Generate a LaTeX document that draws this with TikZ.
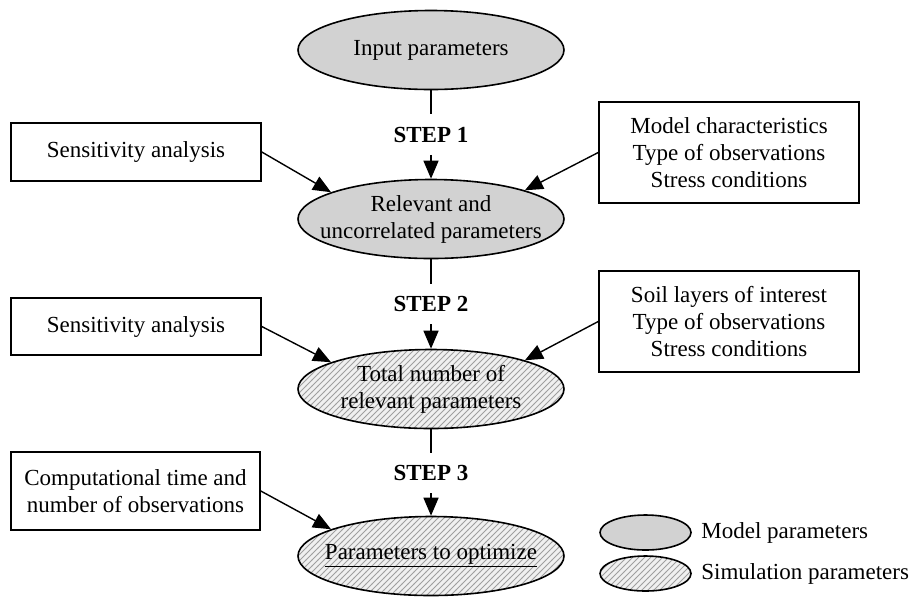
\documentclass[tikz,border=0pt]{standalone}
\usepackage{fontspec}
\setmainfont{Liberation Serif}
\usetikzlibrary{positioning, shapes.geometric, patterns, arrows.meta}

\begin{document}
\begin{tikzpicture}[x=0.5pt, y=-0.5pt,
    font=\fontsize{11.5}{13.5}\selectfont,
    modelpar/.style={ellipse, draw, line width=0.8pt, fill=gray!35,
      inner sep=0pt, minimum width=133pt, minimum height=39.5pt},
    simpar/.style={modelpar, preaction={fill=gray!12}, fill=none,
      pattern=north east lines, pattern color=gray!75},
    infobox/.style={draw, line width=0.8pt, align=center, inner sep=0pt},
    steplabel/.style={font=\fontsize{11.5}{13.5}\selectfont\bfseries,
      inner sep=0pt, minimum height=20pt},
    link/.style={line width=0.7pt},
    arrow/.style={link, -{Triangle[length=9pt, width=7.5pt]}}]
    \useasboundingbox (0,0) rectangle (909,596);

    % Parameter ellipses
    \node[modelpar, label={center:Input parameters}] (inp) at (431,50) {};
    \node[modelpar, label={[align=center]center:Relevant and\\uncorrelated parameters}] (rel) at (431,219) {};
    \node[simpar, label={[align=center]center:Total number of\\relevant parameters}] (tot) at (431,389) {};
    \node[simpar, label={center:\underline{Parameters to optimize}}] (opt) at (431,556) {};

    % Steps between the ellipses
    \foreach \n/\y in {1/134.5, 2/304, 3/473}
      \node[steplabel] (step\n) at (431,\y) {STEP \n};
    \foreach \a/\s/\b in {inp/step1/rel, rel/step2/tot, tot/step3/opt} {
      \draw[link] (\a.south) -- (\s.north);
      \draw[arrow] (\s.south) -- (\b.north);
    }

    % Boxes on the left
    \node[infobox, minimum width=125pt, minimum height=29pt] (sens1) at (136,152) {Sensitivity analysis};
    \node[infobox, minimum width=125pt, minimum height=28.5pt] (sens2) at (136,326.5) {Sensitivity analysis};
    \node[infobox, minimum width=124.5pt, minimum height=39pt] (comp) at (135.5,491) {Computational time and\\number of observations};

    % Boxes on the right
    \node[infobox, minimum width=130pt, minimum height=50.5pt] (model) at (729,152.5) {Model characteristics\\Type of observations\\Stress conditions};
    \node[infobox, minimum width=130pt, minimum height=50.5pt] (soil) at (729,321.5) {Soil layers of interest\\Type of observations\\Stress conditions};

    % Arrows into the ellipses
    \draw[arrow] (sens1.east) -- (rel.165);
    \draw[arrow] (model.west) -- (rel.17);
    \draw[arrow] (sens2.east) -- (tot.165);
    \draw[arrow] (soil.west) -- (tot.17);
    \draw[arrow] (comp.east) -- (opt.165);

    % Legend
    \node[modelpar, minimum width=45.5pt, minimum height=17.5pt] (legm) at (645.5,532.5) {};
    \node[simpar, minimum width=45.5pt, minimum height=17.5pt] (legs) at (645.5,573.5) {};
    \node[anchor=west, inner sep=0pt] (legmtext) at (701,532.5) {Model parameters};
    \node[anchor=west, inner sep=0pt] (legstext) at (701,573.5) {Simulation parameters};
\end{tikzpicture}
\end{document}
